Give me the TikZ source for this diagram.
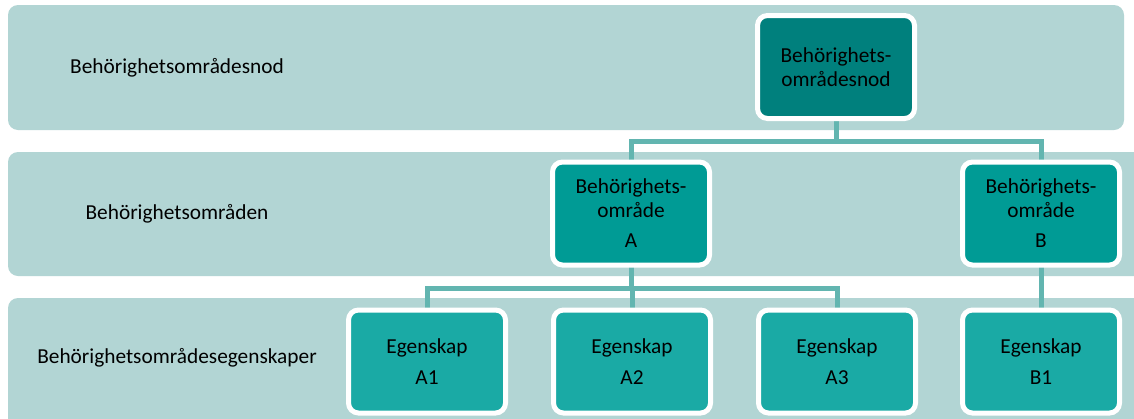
\documentclass[tikz,border=0pt]{standalone}
\usepackage{fontspec}
\setmainfont{Carlito}
\pgfdeclarelayer{bg}
\pgfdeclarelayer{mid}
\pgfsetlayers{bg,mid,main}
\definecolor{band}{RGB}{178,213,212}
\definecolor{topfill}{RGB}{0,128,125}
\definecolor{midfill}{RGB}{0,155,149}
\definecolor{lowfill}{RGB}{26,170,165}
\definecolor{conncol}{RGB}{98,181,176}
\tikzset{
  box/.style={draw=white, line width=3.75pt, rounded corners=7.5pt, inner sep=0pt,
    minimum width=117.75pt, minimum height=77.25pt, align=center,
    font=\fontsize{16}{18}\selectfont, text=black},
  topbox/.style={box, fill=topfill},
  midbox/.style={box, fill=midfill},
  lowbox/.style={box, fill=lowfill},
  bandrect/.style={fill=band, rounded corners=7.5pt},
  bandlabel/.style={font=\fontsize{16}{18}\selectfont, text=black},
  conn/.style={draw=conncol, line width=3.75pt}
}
\begin{document}
\begin{tikzpicture}[x=0.75pt, y=-0.75pt]
\clip (0,0) rectangle (1134,418);
\begin{pgfonlayer}{bg}
  \fill[white] (0,0) rectangle (1134,418);
  \fill[bandrect] (8,5) rectangle (1124,130);
  \fill[bandrect] (8,152) rectangle (1150,276);
  \fill[bandrect] (8,298) rectangle (1150,440);
\end{pgfonlayer}

\node[bandlabel] (l1) at (177,68) {Behörighetsområdesnod};
\node[bandlabel] (l2) at (177,214) {Behörighetsområden};
\node[bandlabel] (l3) at (177,358) {Behörighetsområdesegenskaper};

\node[topbox] (top) at (836,67) {Behörighets-\\områdesnod};
\node[midbox] (A) at (631,213.5) {Behörighets-\\område\\[4.5pt]A};
\node[midbox] (B) at (1041,213.5) {Behörighets-\\område\\[4.5pt]B};
\node[lowbox] (A1) at (427,361.5) {Egenskap\\[5pt]A1};
\node[lowbox] (A2) at (632,361.5) {Egenskap\\[5pt]A2};
\node[lowbox] (A3) at (837,361.5) {Egenskap\\[5pt]A3};
\node[lowbox] (B1) at (1041,361.5) {Egenskap\\[5pt]B1};

\coordinate (h1) at (836,141.5);
\coordinate (h2) at (631,288);
\begin{pgfonlayer}{mid}
  \draw[conn] (top.center) -- (h1);
  \draw[conn] (h1) -| (A.center);
  \draw[conn] (h1) -| (B.center);
  \draw[conn] (A.center) -- (h2);
  \draw[conn] (h2) -| (A1.center);
  \draw[conn] (h2) -| (A2.center);
  \draw[conn] (h2) -| (A3.center);
  \draw[conn] (B.center) -- (B1.center);
\end{pgfonlayer}
\end{tikzpicture}
\end{document}
